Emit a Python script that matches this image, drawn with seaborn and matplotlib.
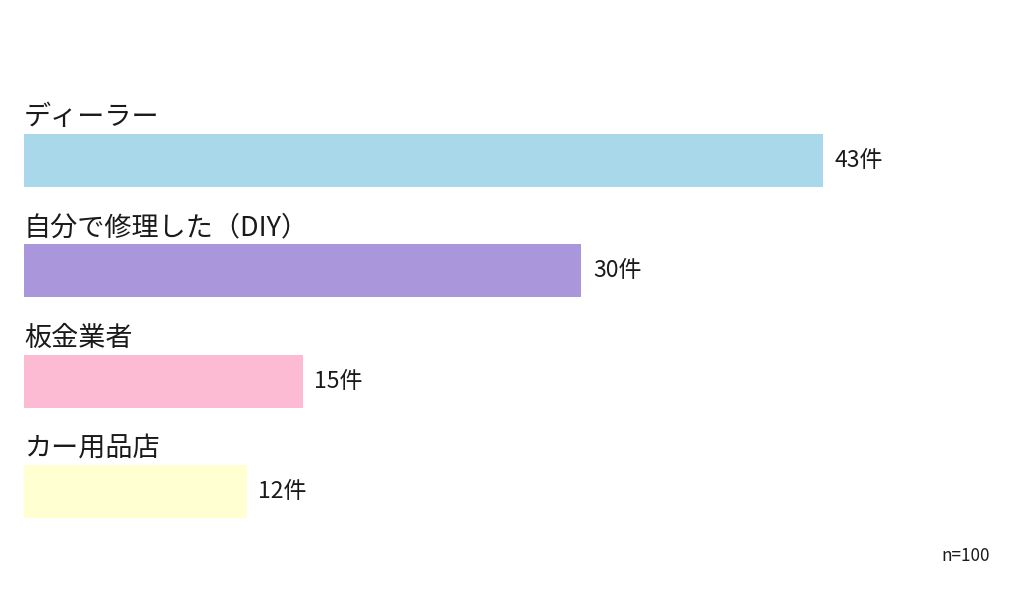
import matplotlib
matplotlib.use("Agg")
import matplotlib.pyplot as plt
import seaborn as sns
import pandas as pd

categories = ["ディーラー", "自分で修理した（DIY）", "板金業者", "カー用品店"]
values = [43, 30, 15, 12]
value_labels = ["43件", "30件", "15件", "12件"]
colors = ["#A8D8EA", "#AA96DA", "#FCBAD3", "#FFFFD2"]
note = "n=100"

sns.set_theme(style="white")
plt.rcParams['font.family'] = ['Noto Sans CJK JP', 'DejaVu Sans']

df = pd.DataFrame({"cat": categories, "val": values})

fig = plt.figure(figsize=(10.24, 5.92), dpi=100)
W, H = 1024, 592
spacing = 110.33
top_px = 160.5 - 0.5 * spacing
bot_px = 491.5 + 0.5 * spacing
left_px = 24
right_px = 1000
ax = fig.add_axes([left_px / W, 1 - bot_px / H, (right_px - left_px) / W, (bot_px - top_px) / H])

sns.barplot(data=df, y="cat", x="val", hue="cat", palette=colors, orient="h",
            width=0.48, ax=ax, legend=False, saturation=1, linewidth=0)

ax.set_xlim(0, (right_px - left_px) / 18.58)
ax.set_ylim(3.5, -0.5)
ax.axis("off")

for i, (c, v, lab) in enumerate(zip(categories, values, value_labels)):
    ax.text(0, i - 0.39, c, fontsize=19.5, va="center", ha="left", color="#1a1a1a")
    ax.text(v + 0.62, i, lab, fontsize=16.5, va="center", ha="left", color="#1a1a1a")

fig.text(990 / W, 1 - 556 / H, note, fontsize=12.3, ha="right", va="center", color="#1a1a1a")

fig.savefig("out.png", dpi=100, facecolor="white")
